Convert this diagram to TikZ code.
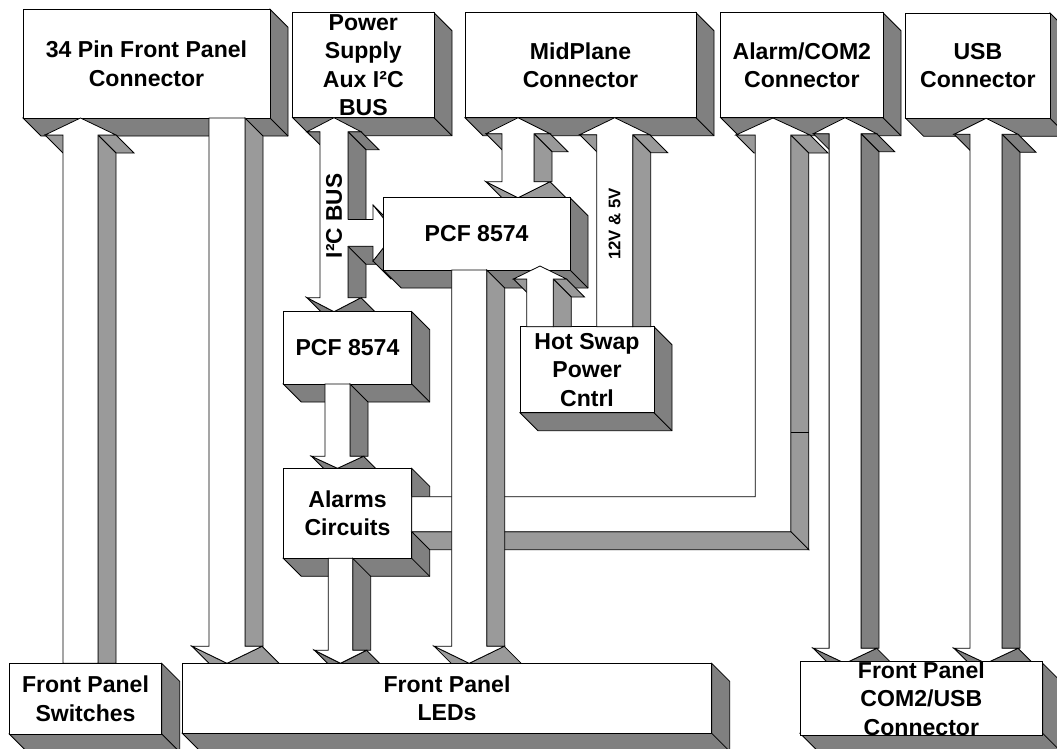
\documentclass[tikz,border=0pt]{standalone}
\usepackage{fontspec}
\setmainfont{Liberation Sans}
\definecolor{gA}{HTML}{808080}
\definecolor{gB}{HTML}{9A9A9A}
\tikzset{
  facestyle/.style={draw=black, line width=0.6pt, line join=miter},
  boxnode/.style={draw=black, fill=white, line width=0.6pt, inner sep=0pt, align=center,
    font=\bfseries\fontsize{17.3}{21.4}\selectfont},
  lbl/.style={font=\bfseries\fontsize{17}{20}\selectfont, rotate=90, inner sep=0pt},
}
\def\Dp{18}
% 3D box: name, x1, y1, x2, y2, text
\newcommand\cube[6]{%
  \filldraw[fill=gA,facestyle] (#4,#3) -- (#4+\Dp,#3+\Dp) -- (#4+\Dp,#5+\Dp) -- (#2+\Dp,#5+\Dp) -- (#2,#5) -- (#4,#5) -- cycle;
  \draw[facestyle] (#4,#5) -- (#4+\Dp,#5+\Dp);
  \node[boxnode, minimum width={(#4-#2)*0.75pt}, minimum height={(#5-#3)*0.75pt}] (#1) at ({(#2+#4)/2},{(#3+#5)/2}) {#6};
}
% up arrow: cx, ytip, ytail, half shaft, half head, head length, colour
\newcommand\uparr[7]{%
  \pgfmathsetmacro\Xc{#1}\pgfmathsetmacro\Yt{#2}\pgfmathsetmacro\Yb{#3}%
  \pgfmathsetmacro\Wa{#4}\pgfmathsetmacro\Wb{#5}\pgfmathsetmacro\Yh{#2+#6}%
  \filldraw[fill=#7,facestyle] (\Xc-\Wb,\Yh) -- (\Xc-\Wa,\Yh) -- (\Xc-\Wa+\Dp,\Yh+\Dp) -- (\Xc-\Wb+\Dp,\Yh+\Dp) -- cycle;
  \filldraw[fill=#7,facestyle] (\Xc+\Wa,\Yh) -- (\Xc+\Wb,\Yh) -- (\Xc+\Wb+\Dp,\Yh+\Dp) -- (\Xc+\Wa+\Dp,\Yh+\Dp) -- cycle;
  \filldraw[fill=#7,facestyle] (\Xc+\Wa,\Yh) -- (\Xc+\Wa+\Dp,\Yh+\Dp) -- (\Xc+\Wa+\Dp,\Yb) -- (\Xc+\Wa,\Yb) -- cycle;
  \filldraw[fill=white,facestyle] (\Xc,\Yt) -- (\Xc+\Wb,\Yh) -- (\Xc+\Wa,\Yh) -- (\Xc+\Wa,\Yb) -- (\Xc-\Wa,\Yb) -- (\Xc-\Wa,\Yh) -- (\Xc-\Wb,\Yh) -- cycle;
}
% down arrow: cx, ytail, ytip, half shaft, half head, head length, colour
\newcommand\downarr[7]{%
  \pgfmathsetmacro\Xc{#1}\pgfmathsetmacro\Yt{#2}\pgfmathsetmacro\Yb{#3}%
  \pgfmathsetmacro\Wa{#4}\pgfmathsetmacro\Wb{#5}\pgfmathsetmacro\Yh{#3-#6}%
  \filldraw[fill=#7,facestyle] (\Xc+\Wa,\Yt) -- (\Xc+\Wa+\Dp,\Yt+\Dp) -- (\Xc+\Wa+\Dp,\Yh) -- (\Xc+\Wa,\Yh) -- cycle;
  \filldraw[fill=#7,facestyle] (\Xc-\Wb,\Yh) -- (\Xc,\Yb) -- (\Xc+\Dp,\Yb+\Dp) -- (\Xc-\Wb+\Dp,\Yh+\Dp) -- cycle;
  \filldraw[fill=#7,facestyle] (\Xc+\Wb,\Yh) -- (\Xc+\Wb+\Dp,\Yh+\Dp) -- (\Xc+\Dp,\Yb+\Dp) -- (\Xc,\Yb) -- cycle;
  \filldraw[fill=white,facestyle] (\Xc-\Wa,\Yt) -- (\Xc+\Wa,\Yt) -- (\Xc+\Wa,\Yh) -- (\Xc+\Wb,\Yh) -- (\Xc,\Yb) -- (\Xc-\Wb,\Yh) -- (\Xc-\Wa,\Yh) -- cycle;
}
% double arrow: cx, ytop tip, ybottom tip, half shaft, half head, top head length, bottom head length, colour
\newcommand\dblarr[8]{%
  \pgfmathsetmacro\Xc{#1}\pgfmathsetmacro\Yt{#2}\pgfmathsetmacro\Yb{#3}%
  \pgfmathsetmacro\Wa{#4}\pgfmathsetmacro\Wb{#5}\pgfmathsetmacro\Yh{#2+#6}\pgfmathsetmacro\Yg{#3-#7}%
  \filldraw[fill=#8,facestyle] (\Xc-\Wb,\Yh) -- (\Xc-\Wa,\Yh) -- (\Xc-\Wa+\Dp,\Yh+\Dp) -- (\Xc-\Wb+\Dp,\Yh+\Dp) -- cycle;
  \filldraw[fill=#8,facestyle] (\Xc+\Wa,\Yh) -- (\Xc+\Wb,\Yh) -- (\Xc+\Wb+\Dp,\Yh+\Dp) -- (\Xc+\Wa+\Dp,\Yh+\Dp) -- cycle;
  \filldraw[fill=#8,facestyle] (\Xc+\Wa,\Yh) -- (\Xc+\Wa+\Dp,\Yh+\Dp) -- (\Xc+\Wa+\Dp,\Yg) -- (\Xc+\Wa,\Yg) -- cycle;
  \filldraw[fill=#8,facestyle] (\Xc-\Wb,\Yg) -- (\Xc,\Yb) -- (\Xc+\Dp,\Yb+\Dp) -- (\Xc-\Wb+\Dp,\Yg+\Dp) -- cycle;
  \filldraw[fill=#8,facestyle] (\Xc+\Wb,\Yg) -- (\Xc+\Wb+\Dp,\Yg+\Dp) -- (\Xc+\Dp,\Yb+\Dp) -- (\Xc,\Yb) -- cycle;
  \filldraw[fill=white,facestyle] (\Xc,\Yt) -- (\Xc+\Wb,\Yh) -- (\Xc+\Wa,\Yh) -- (\Xc+\Wa,\Yg) -- (\Xc+\Wb,\Yg) -- (\Xc,\Yb) -- (\Xc-\Wb,\Yg) -- (\Xc-\Wa,\Yg) -- (\Xc-\Wa,\Yh) -- (\Xc-\Wb,\Yh) -- cycle;
}
\begin{document}
\begin{tikzpicture}[x=0.75pt,y=-0.75pt]
\useasboundingbox (0,0) rectangle (1057,749);
\fill[white] (0,0) rectangle (1057,749);
% top boxes
\cube{pin}{23}{9.3}{270}{118}{34 Pin Front Panel\\Connector}
\cube{psu}{292.7}{12.7}{434}{117.7}{Power\\Supply\\Aux I²C\\BUS}
\cube{mid}{465}{12.7}{696}{117.7}{MidPlane\\Connector}
\cube{alm}{720.7}{12.7}{883}{117.7}{Alarm/COM2\\Connector}
\cube{usb}{905.7}{13}{1050}{118.3}{USB\\Connector}
% I2C bus
\dblarr{334}{117.7}{311.7}{14}{27}{14}{14}{gA}
\filldraw[fill=gA,facestyle] (348,246.3) -- (373,246.3) -- (391,264.3) -- (366,264.3) -- cycle;
\filldraw[fill=gA,facestyle] (373,261) -- (395,233) -- (413,251) -- (391,279) -- cycle;
\filldraw[fill=gA,facestyle] (373,205) -- (395,233) -- (413,251) -- (391,223) -- cycle;
\fill[white] (345.5,219.5) -- (373,219.5) -- (373,205) -- (395,233) -- (373,261) -- (373,246.3) -- (345.5,246.3) -- cycle;
\draw[facestyle] (348,219.5) -- (373,219.5) -- (373,205) -- (395,233) -- (373,261) -- (373,246.3) -- (348,246.3);
\node[lbl] (i2c) at (334,216) {I²C BUS};
% MidPlane <-> PCF
\dblarr{518}{117.7}{197.7}{16}{32}{16}{16}{gB}
% middle boxes
\cube{pcfU}{383.3}{197.7}{570}{270}{PCF 8574}
\cube{pcfL}{283.3}{311.7}{411.7}{384}{PCF 8574}
\downarr{337.5}{384}{468.3}{12.5}{26}{12}{gA}
\cube{alc}{283.3}{468.3}{411.7}{558.3}{Alarms\\Circuits}
\cube{hsw}{520}{326.7}{654}{412.7}{Hot Swap\\Power\\Cntrl}
\uparr{540}{266}{326.7}{13.3}{26.5}{13}{gB}
\uparr{614.7}{117.7}{326.7}{18}{35}{17}{gB}
\node[lbl, font=\bfseries\fontsize{12.6}{14}\selectfont] (v12) at (614.5,224) {12V \& 5V};
% COM2 / USB double arrows
\dblarr{845}{117.7}{663.3}{15.9}{31.7}{16}{15}{gA}
\dblarr{986}{118.3}{663.3}{16}{32}{16}{15}{gA}
% L connector Alarms Circuits -> Alarm/COM2
\filldraw[fill=gB,facestyle] (736,135) -- (755.2,135) -- (773.2,153) -- (754,153) -- cycle;
\filldraw[fill=gB,facestyle] (790.8,135) -- (810,135) -- (828,153) -- (808.8,153) -- cycle;
\filldraw[fill=gB,facestyle] (790.8,135) -- (808.8,153) -- (808.8,549.7) -- (790.8,531.7) -- cycle;
\filldraw[fill=gB,facestyle] (411.7,531.7) -- (790.8,531.7) -- (808.8,549.7) -- (429.7,549.7) -- cycle;
\filldraw[fill=white,facestyle] (773,118) -- (810,135) -- (790.8,135) -- (790.8,531.7) -- (411.7,531.7) -- (411.7,496.7) -- (755.2,496.7) -- (755.2,135) -- (736,135) -- cycle;
\draw[facestyle] (790.8,432) -- (808.8,432);
% long arrows
\uparr{80.5}{118}{663.3}{17.5}{35.5}{17}{gB}
\downarr{227}{118}{663.3}{18}{35}{17}{gB}
\downarr{340.5}{558.3}{663.3}{12.2}{26}{13}{gA}
\downarr{469.2}{270}{663.3}{17.5}{35}{17}{gB}
% bottom boxes
\cube{sw}{9.3}{663.3}{161.7}{734}{Front Panel\\Switches}
\cube{leds}{182.3}{663.3}{711.7}{733.3}{Front Panel\\LEDs}
\cube{cu}{800}{663.3}{1042.7}{733.3}{Front Panel\\COM2/USB\\Connector}
\end{tikzpicture}
\end{document}
